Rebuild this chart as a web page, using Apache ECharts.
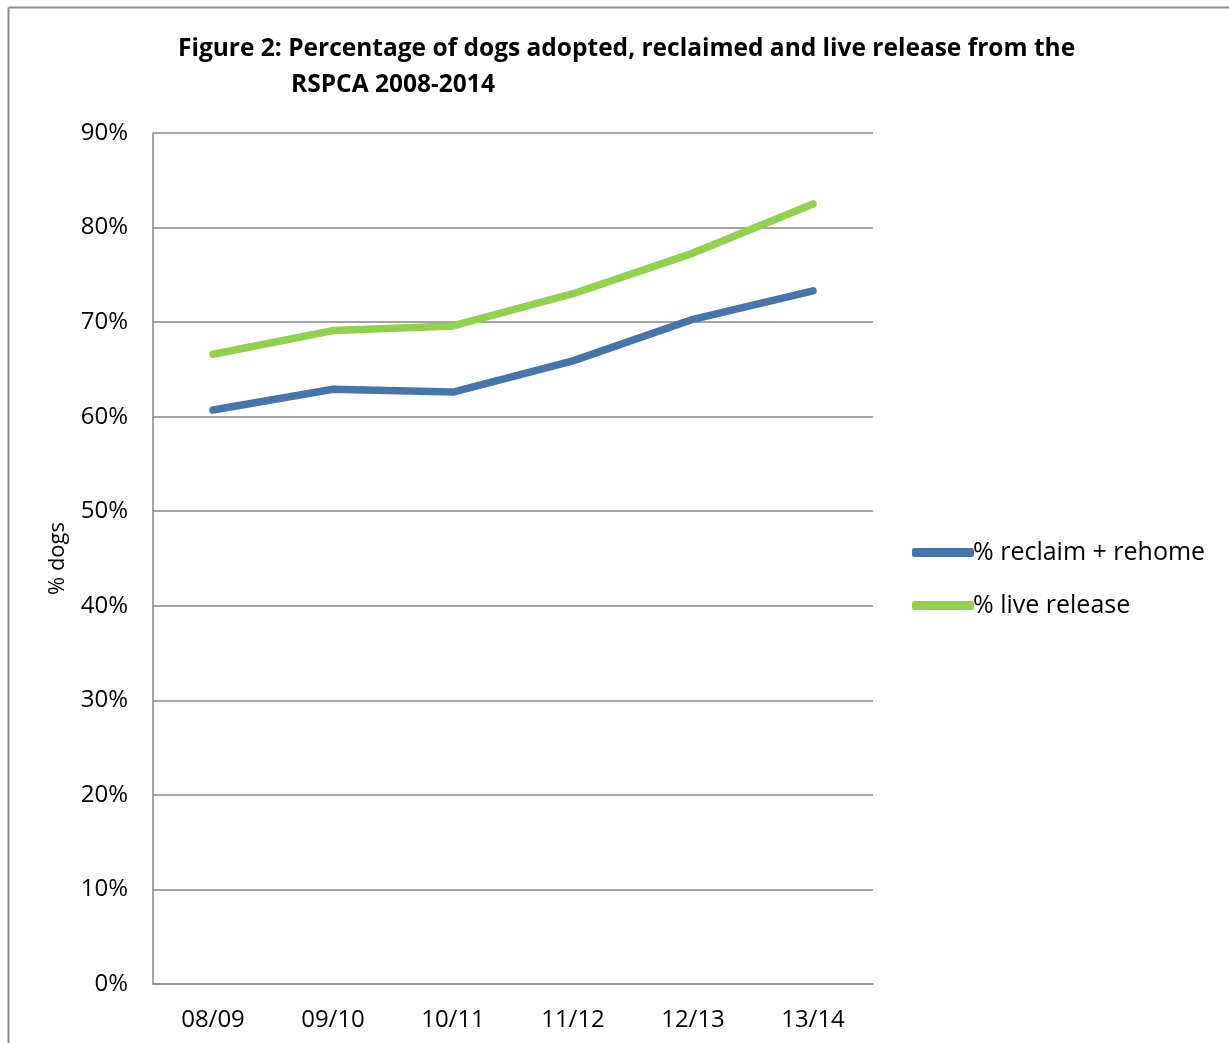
<!DOCTYPE html>
<html>
<head>
<meta charset="utf-8">
<script src="https://cdn.jsdelivr.net/npm/echarts@6/dist/echarts.min.js"></script>
<style>
  html, body { margin: 0; padding: 0; background: #fff; }
  #chart { width: 1229px; height: 1043px; }
</style>
</head>
<body>
<div id="chart"></div>
<script>
// data
var years = ['08/09', '09/10', '10/11', '11/12', '12/13', '13/14'];
var reclaimRehome = [60.7, 62.9, 62.6, 65.9, 70.3, 73.3];
var liveRelease = [66.6, 69.1, 69.6, 73.0, 77.3, 82.5];

var font = 'Open Sans';

var chart = echarts.init(document.getElementById('chart'));
var option = {
  animation: false,
  backgroundColor: '#fff',
  textStyle: { fontFamily: font },
  title: [
    {
      text: 'Figure 2: Percentage of dogs adopted, reclaimed and live release from the',
      left: 173, top: 32,
      textStyle: { fontSize: 24.5, fontWeight: 'bold', color: '#000', fontFamily: font }
    },
    {
      text: 'RSPCA 2008-2014',
      left: 286, top: 68,
      textStyle: { fontSize: 24.5, fontWeight: 'bold', color: '#000', fontFamily: font }
    }
  ],
  graphic: [
    { type: 'line', shape: { x1: 8.5, y1: 1043, x2: 8.5, y2: 7.5 }, style: { stroke: '#8a8a8a', lineWidth: 2 } },
    { type: 'line', shape: { x1: 8.5, y1: 7.5, x2: 1229, y2: 7.5 }, style: { stroke: '#8a8a8a', lineWidth: 2 } }
  ],
  legend: {
    orient: 'vertical',
    left: 907, top: 535,
    itemGap: 28,
    itemWidth: 62, itemHeight: 9,
    icon: 'roundRect',
    textStyle: { fontSize: 25, color: '#000', fontFamily: font, padding: [0, 0, 0, -6] },
    data: ['% reclaim + rehome', '% live release']
  },
  grid: { left: 153, right: 356, top: 133, bottom: 59 },
  xAxis: {
    type: 'category',
    data: years,
    boundaryGap: true,
    axisLine: { lineStyle: { color: '#868686', width: 1.5 } },
    axisTick: { show: false },
    axisLabel: { fontSize: 24, color: '#000', margin: 24, fontFamily: font }
  },
  yAxis: {
    type: 'value',
    min: 0, max: 90, interval: 10,
    name: '% dogs',
    nameLocation: 'middle',
    nameGap: 84,
    nameTextStyle: { fontSize: 22, color: '#000', fontFamily: font },
    axisLine: { show: true, lineStyle: { color: '#868686', width: 1.5 } },
    axisTick: { show: false },
    axisLabel: { fontSize: 24, color: '#000', margin: 25, formatter: '{value}%', fontFamily: font },
    splitLine: { lineStyle: { color: '#868686', width: 1.5 } }
  },
  series: [
    {
      name: '% reclaim + rehome',
      type: 'line',
      data: reclaimRehome,
      symbol: 'none',
      color: '#4775aa',
      lineStyle: { width: 7.5, cap: 'round', join: 'round' }
    },
    {
      name: '% live release',
      type: 'line',
      data: liveRelease,
      symbol: 'none',
      color: '#92d050',
      lineStyle: { width: 7.5, cap: 'round', join: 'round' }
    }
  ]
};
chart.setOption(option);
</script>
</body>
</html>
